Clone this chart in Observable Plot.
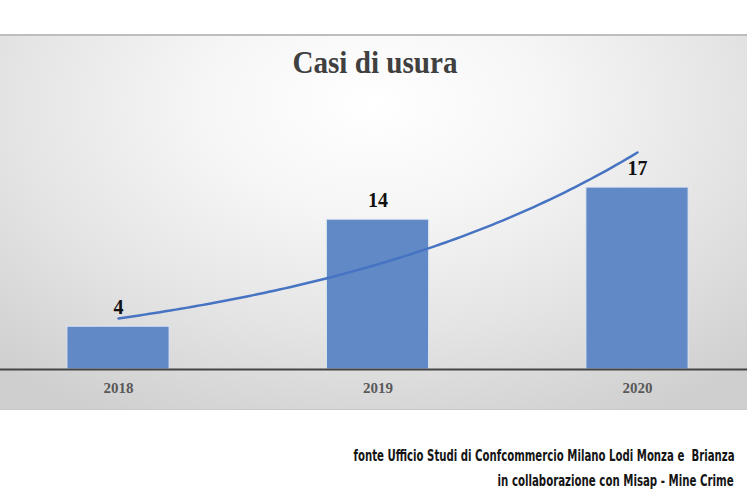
<!DOCTYPE html>
<html>
<head>
<meta charset="utf-8">
<script src="https://cdn.jsdelivr.net/npm/d3@7"></script>
<script src="https://cdn.jsdelivr.net/npm/@observablehq/plot@0.6"></script>
<style>
  html, body { margin: 0; padding: 0; background: #fff; }
  #wrap { position: relative; width: 750px; height: 500px; overflow: hidden; }
  #panel { position: absolute; left: 0; top: 34px; width: 747px; height: 376px;
    background: radial-gradient(ellipse 75% 95% at 50% 18%, #ffffff 0%, #f6f6f6 30%, #e4e4e4 65%, #cfcfcf 100%);
    border-top: 2px solid #bdbdbd; border-bottom: 1px solid #c9c9c9; box-sizing: border-box; }
  #chart { position: absolute; left: 0; top: 0; }
  #title { position: absolute; left: 0; top: 45px; width: 750px; text-align: center;
    font-family: "Liberation Serif", "DejaVu Serif", serif; font-weight: bold; font-size: 31px; color: #404040;
    transform: scaleX(0.94); transform-origin: center; }
  .foot { position: absolute; right: 16px; font-family: "Liberation Sans Narrow", "DejaVu Sans Condensed", sans-serif;
    font-size: 16px; font-weight: bold; color: #151515; white-space: pre; transform-origin: right center; }
</style>
</head>
<body>
<div id="wrap">
  <div id="panel"></div>
  <div id="title">Casi di usura</div>
  <div id="chart"></div>
  <div class="foot" id="f1" style="top:446px">fonte Ufficio Studi di Confcommercio Milano Lodi Monza e  Brianza</div>
  <div class="foot" id="f2" style="top:471px">in collaborazione con Misap - Mine Crime</div>
</div>
<script>
const years = [2018, 2019, 2020];
const values = [4, 14, 17];

const data = years.map((y, i) => ({year: y, value: values[i]}));

// Exponential trendline fitted to the bar values (least squares on log values)
const xs = years.map((y, i) => i + 1);
const ls = values.map(v => Math.log(v));
const mx = d3.mean(xs), ml = d3.mean(ls);
const b = d3.sum(xs.map((x, i) => (x - mx) * (ls[i] - ml))) / d3.sum(xs.map(x => (x - mx) ** 2));
const a = ml - b * mx;
const trend = d3.range(0, 2.0001, 0.02).map(t => ({year: years[0] + t, value: Math.exp(a + b * (1 + t))}));

const half = 0.197;

const chart = Plot.plot({
  width: 750,
  height: 500,
  marginLeft: 0,
  marginRight: 3,
  marginTop: 0,
  marginBottom: 0,
  style: {background: "transparent", overflow: "visible"},
  x: {domain: [2018, 2020], range: [118, 637], axis: null},
  y: {domain: [0, 20], range: [369, 155], axis: null},
  marks: [
    Plot.rectY(data, {x1: d => d.year - half, x2: d => d.year + half, y: "value",
      fill: "#6089c6", stroke: "#dfe7f3", strokeWidth: 1}),
    Plot.ruleY([0], {stroke: "#454545", strokeWidth: 2.2}),
    Plot.line(trend, {x: "year", y: "value", stroke: "#4674c3", strokeWidth: 2.5, curve: "linear"}),
    Plot.text(data, {x: "year", y: "value", text: d => String(d.value), dy: -19,
      fontSize: 20, fontWeight: "bold", fontFamily: "Liberation Serif, serif", fill: "#111"}),
    Plot.text(data, {x: "year", y: d => 0, text: d => String(d.year), dy: 19,
      fontSize: 15, fontWeight: "bold", fontFamily: "Liberation Serif, serif", fill: "#595959"})
  ]
});
document.getElementById("chart").appendChild(chart);

// fit footer lines to the reference's condensed widths
const fit = (id, w) => {
  const el = document.getElementById(id);
  const cw = el.getBoundingClientRect().width;
  el.style.transform = `scaleX(${w / cw})`;
};
fit("f1", 381);
fit("f2", 236);
</script>
</body>
</html>
